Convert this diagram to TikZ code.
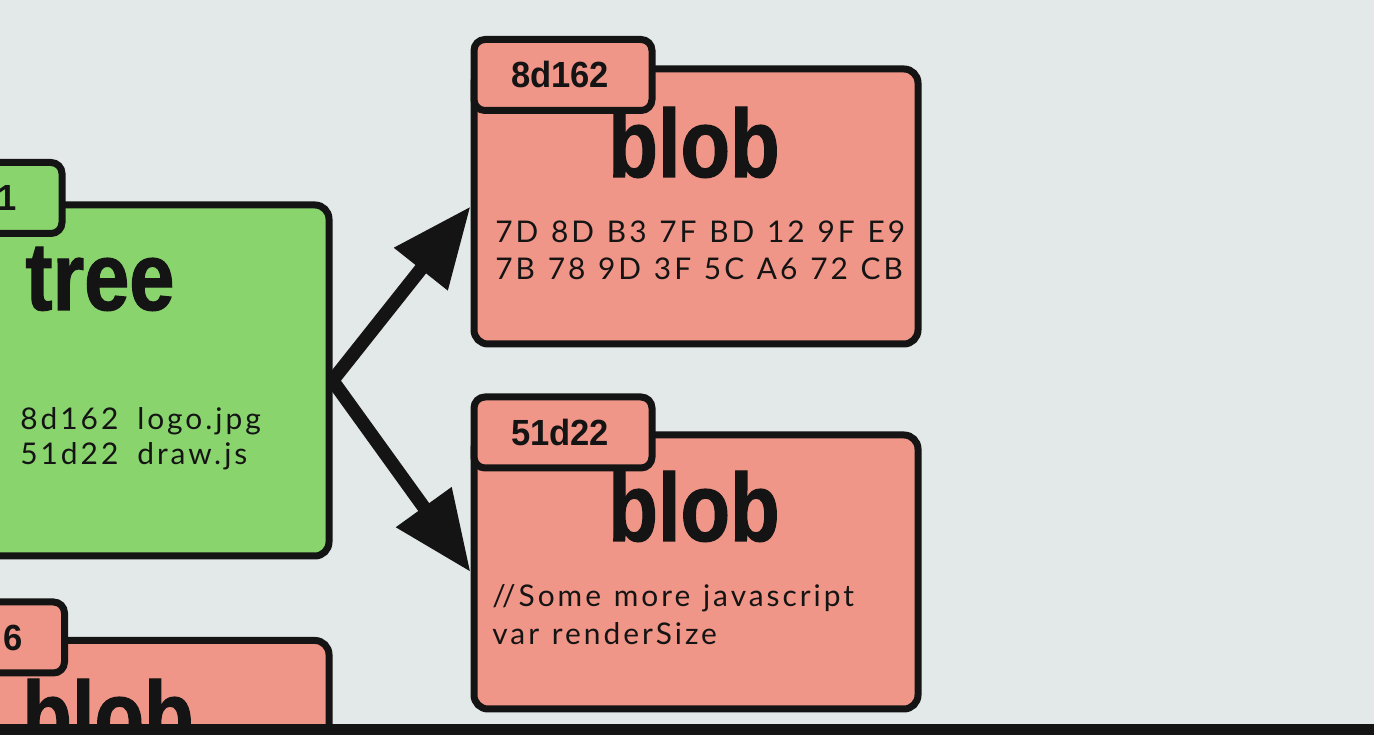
\documentclass[tikz,border=0pt]{standalone}
\usepackage{fontspec}
\setmainfont{Lato}[LetterSpace=10.0,WordSpace=1.2]
\newfontfamily\titlefont{Liberation Sans}[FakeStretch=0.84,FakeBold=1.2]
\newfontfamily\tabfont{Liberation Sans}[FakeStretch=0.95]
\usetikzlibrary{arrows.meta,backgrounds}

\definecolor{slidebg}{HTML}{E3E8E8}
\definecolor{treegreen}{HTML}{8AD46E}
\definecolor{blobred}{HTML}{F09688}
\definecolor{ink}{HTML}{141414}

\tikzset{
    % Big object box
    objbody/.style={
        draw=ink,
        line width=0.14cm,
        rounded corners=0.28cm,
        minimum width=8.88cm,
        inner sep=0pt
    },
    % Hash tab on the top left corner
    objtab/.style={
        draw=ink,
        line width=0.14cm,
        rounded corners=0.22cm,
        minimum width=3.56cm,
        minimum height=1.42cm,
        inner sep=0pt
    },
    % Hash in the tab
    tabid/.style={
        font=\tabfont\bfseries\fontsize{20.7}{24}\selectfont,
        text=ink,
        inner sep=0pt
    },
    % Object type
    objtitle/.style={
        font=\titlefont\bfseries\fontsize{55}{60}\selectfont,
        text=ink,
        anchor=base,
        inner sep=0pt
    },
    % Content lines
    objtext/.style={
        font=\fontsize{17}{20}\selectfont,
        text=ink,
        anchor=base west,
        inner sep=0pt
    },
    % Pointer arrows
    linkarrow/.style={
        {Triangle[length=1.6cm,width=1.3cm]}-{Triangle[length=1.6cm,width=1.3cm]},
        line width=0.27cm,
        draw=ink,
        line join=miter
    }
}

\begin{document}
\begin{tikzpicture}

\useasboundingbox (0,0) rectangle (27.48,14.7);
\clip (0,0) rectangle (27.48,14.7);

\begin{scope}[on background layer]
    \fill[slidebg] (0,0) rectangle (27.48,14.7);
\end{scope}

% ==================== TREE ====================
\node[objbody, fill=treegreen, minimum height=7.02cm] (tree) at (2.14, 7.09) {};
\node[objtitle] (treetitle) at (2.0, 8.5) {tree};
\node[objtab, fill=treegreen] (treetab) at (-0.54, 10.74) {};
\node[tabid] (treeid) at (0.14, 10.74) {1};

\node[objtext] (treeline1) at (0.4, 6.1) {\makebox[2.34cm][l]{8d162}logo.jpg};
\node[objtext] (treeline2) at (0.4, 5.4) {\makebox[2.34cm][l]{51d22}draw.js};

% ==================== BLOB 8d162 ====================
\node[objbody, fill=blobred, minimum height=5.5cm] (blobA) at (13.92, 10.57) {};
\node[objtitle] (blobAtitle) at (13.88, 11.16) {blob};
\node[objtab, fill=blobred] (blobAtab) at (11.26, 13.2) {};
\node[tabid] (blobAid) at (11.2, 13.2) {8d162};

\node[objtext] (blobAline1) at (9.9, 9.84) {7D 8D B3 7F BD 12 9F E9};
\node[objtext] (blobAline2) at (9.9, 9.1) {7B 78 9D 3F 5C A6 72 CB};

% ==================== BLOB 51d22 ====================
\node[objbody, fill=blobred, minimum height=5.48cm] (blobB) at (13.92, 3.26) {};
\node[objtitle] (blobBtitle) at (13.88, 3.88) {blob};
\node[objtab, fill=blobred] (blobBtab) at (11.26, 6.05) {};
\node[tabid] (blobBid) at (11.2, 6.04) {51d22};

\node[objtext] (blobBline1) at (9.84, 2.56) {//Some more javascript};
\node[objtext] (blobBline2) at (9.84, 1.8) {var renderSize};

% ==================== BLOB (cut off) ====================
\node[objbody, fill=blobred, minimum height=5.5cm] (blobC) at (2.14, -0.86) {};
\node[objtitle] (blobCtitle) at (2.16, -0.28) {blob};
\node[objtab, fill=blobred] (blobCtab) at (-0.49, 1.95) {};
\node[tabid] (blobCid) at (0.26, 1.94) {6};

% ==================== POINTERS ====================
\begin{scope}[on background layer]
    \draw[linkarrow] (blobA.west) -- (tree.east) -- (blobB.west);
\end{scope}

% screen edge
\fill[ink] (0,0) rectangle (27.48,0.22);

\end{tikzpicture}
\end{document}
